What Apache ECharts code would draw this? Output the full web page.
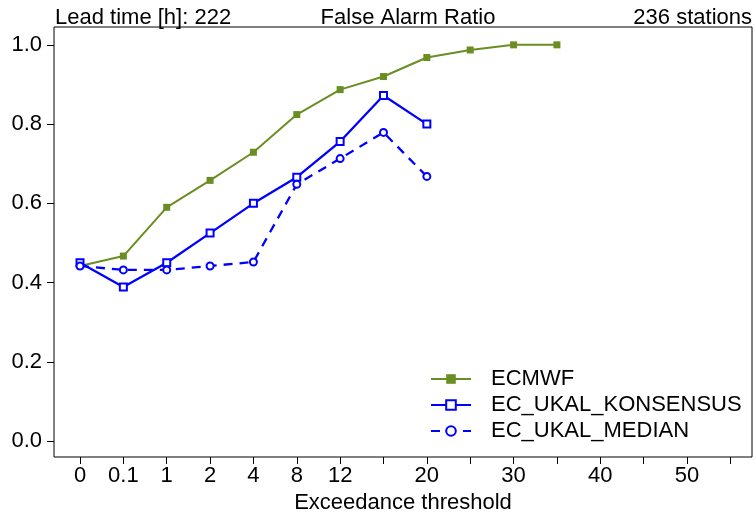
<!DOCTYPE html>
<html>
<head>
<meta charset="utf-8">
<script src="https://cdn.jsdelivr.net/npm/echarts@6/dist/echarts.min.js"></script>
<style>html,body{margin:0;padding:0;background:#fff}#c{width:755px;height:517px}</style>
</head>
<body>
<div id="c"></div>
<script>
// Thresholds (x positions are equally spaced categories)
const thresholds = ['0','0.1','1','2','4','8','12','16','20','25','30','35','40','45','50','55'];
const tickLabels = ['0','0.1','1','2','4','8','12','','20','','30','','40','','50',''];
const yTicks = [0, 0.2, 0.4, 0.6, 0.8, 1.0];

const ecmwf = [0.442, 0.467, 0.590, 0.658, 0.729, 0.824, 0.887, 0.920, 0.968, 0.987, 1.0, 1.0];
const konsensus = [0.450, 0.389, 0.450, 0.525, 0.600, 0.666, 0.756, 0.872, 0.800];
const median = [0.442, 0.432, 0.432, 0.442, 0.452, 0.648, 0.713, 0.779, 0.668];

const titleLeft = 'Lead time [h]: 222';
const titleMid = 'False Alarm Ratio';
const titleRight = '236 stations';
const xName = 'Exceedance threshold';

const FONT = "'Liberation Sans', Arial, sans-serif";
const toXY = arr => arr.map((v, i) => [i, v]);
const tickIdx = thresholds.map((t, i) => i);
const labelIdx = tickLabels.map((t, i) => t !== '' ? i : null).filter(v => v !== null);

const chart = echarts.init(document.getElementById('c'), null, {renderer: 'canvas'});
chart.setOption({
  animation: false,
  backgroundColor: '#fff',
  textStyle: {fontFamily: FONT},
  title: [
    {text: titleLeft, left: 50, top: 2, textStyle: {fontSize: 22, fontWeight: 'normal', color: '#000', fontFamily: FONT}},
    {text: titleMid, left: 403, textAlign: 'center', top: 2, textStyle: {fontSize: 22, fontWeight: 'normal', color: '#000', fontFamily: FONT}},
    {text: titleRight, right: -2, top: 2, textStyle: {fontSize: 22, fontWeight: 'normal', color: '#000', fontFamily: FONT}}
  ],
  grid: {left: 54, right: 3, top: 27, bottom: 60, show: true, borderColor: '#000', borderWidth: 1,
    backgroundColor: 'transparent', containLabel: false, outerBoundsMode: 'none'},
  legend: {
    orient: 'vertical', left: 425, top: 363,
    itemWidth: 40, itemHeight: 12, itemGap: 4,
    textStyle: {fontSize: 22, color: '#000', fontFamily: FONT, padding: [0, 0, 0, 15], lineHeight: 22},
    data: ['ECMWF', 'EC_UKAL_KONSENSUS', 'EC_UKAL_MEDIAN']
  },
  xAxis: {
    type: 'value', min: -0.6, max: 15.5,
    name: xName, nameLocation: 'middle', nameGap: 33,
    nameTextStyle: {fontSize: 22, color: '#000', fontFamily: FONT},
    axisLine: {show: false, onZero: false},
    axisTick: {show: true, length: 7, inside: false, customValues: tickIdx, lineStyle: {color: '#000'}},
    axisLabel: {show: true, customValues: labelIdx, margin: 8, fontSize: 22, color: '#000', fontFamily: FONT,
      formatter: v => tickLabels[Math.round(v)]},
    splitLine: {show: false}
  },
  yAxis: {
    type: 'value', min: -0.04, max: 1.045,
    axisLine: {show: false, onZero: false},
    axisTick: {show: true, length: 7, customValues: yTicks, lineStyle: {color: '#000'}},
    axisLabel: {show: true, customValues: yTicks, margin: 12, fontSize: 22, color: '#000', fontFamily: FONT,
      formatter: v => v.toFixed(1)},
    splitLine: {show: false}
  },
  series: [
    {name: 'ECMWF', type: 'line', data: toXY(ecmwf), symbol: 'rect', symbolSize: 7,
      lineStyle: {color: '#6b8e23', width: 2}, itemStyle: {color: '#6b8e23'}, z: 2},
    {name: 'EC_UKAL_KONSENSUS', type: 'line', data: toXY(konsensus), symbol: 'emptyRect', symbolSize: 7,
      lineStyle: {color: '#0000ff', width: 2.3}, itemStyle: {color: '#0000ff', borderWidth: 1.6, borderColor: '#0000ff'}, z: 3},
    {name: 'EC_UKAL_MEDIAN', type: 'line', data: toXY(median), symbol: 'emptyCircle', symbolSize: 7,
      lineStyle: {color: '#0000ff', width: 2.3, type: [9, 7]}, itemStyle: {color: '#0000ff', borderWidth: 1.6, borderColor: '#0000ff'}, z: 4}
  ]
});
</script>
</body>
</html>
